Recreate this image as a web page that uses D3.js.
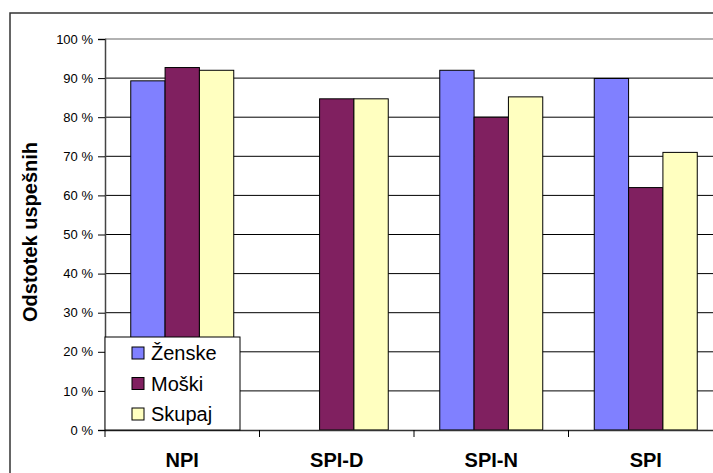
<!DOCTYPE html>
<html>
<head>
<meta charset="utf-8">
<script src="https://cdn.jsdelivr.net/npm/d3@7"></script>
<style>
  html, body { margin: 0; padding: 0; background: #fff; }
  svg { display: block; font-family: Arial, "Liberation Sans", sans-serif; }
</style>
</head>
<body>
<div id="chart"></div>
<script>
const categories = ["NPI", "SPI-D", "SPI-N", "SPI"];
const seriesNames = ["Ženske", "Moški", "Skupaj"];
const zenske = [89.3, null, 92.0, 89.9];
const moski = [92.7, 84.7, 80.0, 62.0];
const skupaj = [92.0, 84.7, 85.2, 71.0];
const yTicks = [0, 10, 20, 30, 40, 50, 60, 70, 80, 90, 100];
const colors = ["#8080ff", "#802060", "#ffffc0"];

function renderChart() {
    const width = 713;
    const height = 473;
    const margin = { top: 39, right: -10, bottom: 43, left: 105 };

    const svg = d3.select("#chart").append("svg")
        .attr("width", width)
        .attr("height", height);

    // outer chart frame (cropped at right and bottom)
    svg.append("rect")
        .attr("x", 10).attr("y", 13)
        .attr("width", 740).attr("height", 500)
        .attr("fill", "none")
        .attr("stroke", "#333")
        .attr("stroke-width", 1.5);

    const x = d3.scaleBand()
        .domain(categories)
        .range([margin.left, width - margin.right]);

    const xs = d3.scaleBand()
        .domain(seriesNames)
        .range([0, x.bandwidth()])
        .paddingInner(0)
        .paddingOuter(0.75);

    const y = d3.scaleLinear()
        .domain([0, 100])
        .range([height - margin.bottom, margin.top]);

    // gridlines
    svg.append("g")
        .selectAll("line")
        .data(yTicks.filter(d => d > 0 && d < 100))
        .join("line")
        .attr("x1", margin.left).attr("x2", width - margin.right)
        .attr("y1", d => y(d)).attr("y2", d => y(d))
        .attr("stroke", "#000")
        .attr("stroke-width", 1);

    // plot area top border
    svg.append("line")
        .attr("x1", margin.left).attr("x2", width - margin.right)
        .attr("y1", y(100)).attr("y2", y(100))
        .attr("stroke", "#999")
        .attr("stroke-width", 1.5);

    const data = seriesNames.map((name, i) => ({
        name, color: colors[i], values: [zenske, moski, skupaj][i]
    }));

    svg.append("g")
        .selectAll("g")
        .data(data)
        .join("g")
        .attr("fill", d => d.color)
        .selectAll("rect")
        .data(d => d.values.map((v, j) => ({ name: d.name, cat: categories[j], v })).filter(e => e.v != null))
        .join("rect")
        .attr("x", d => x(d.cat) + xs(d.name))
        .attr("y", d => y(d.v))
        .attr("width", xs.bandwidth())
        .attr("height", d => y(0) - y(d.v))
        .attr("stroke", "#000")
        .attr("stroke-width", 1);

    // y axis
    const yAxis = svg.append("g")
        .attr("transform", `translate(${margin.left},0)`)
        .call(d3.axisLeft(y).tickValues(yTicks).tickSize(7).tickPadding(5)
            .tickFormat(d => d + " %"));
    yAxis.select(".domain").attr("stroke", "#444").attr("stroke-width", 1.5);
    yAxis.selectAll(".tick line").attr("stroke", "#000");
    yAxis.selectAll("text").attr("font-size", 13).attr("fill", "#000")
        .attr("font-family", "Arial, 'Liberation Sans', sans-serif");

    // x axis
    const xAxis = svg.append("g")
        .attr("transform", `translate(0,${y(0)})`)
        .call(d3.axisBottom(x).tickSize(0).tickPadding(23));
    xAxis.select(".domain").attr("stroke", "#333").attr("stroke-width", 1.5);
    xAxis.selectAll("text")
        .attr("font-size", 20)
        .attr("font-weight", "bold")
        .attr("fill", "#000")
        .attr("font-family", "Arial, 'Liberation Sans', sans-serif");

    // category boundary ticks
    svg.append("g")
        .selectAll("line")
        .data(categories)
        .join("line")
        .attr("x1", d => x(d)).attr("x2", d => x(d))
        .attr("y1", y(0)).attr("y2", y(0) + 7)
        .attr("stroke", "#000");

    // y title
    svg.append("text")
        .attr("transform", `translate(37,${232}) rotate(-90)`)
        .attr("text-anchor", "middle")
        .attr("font-size", 20)
        .attr("font-weight", "bold")
        .text("Odstotek uspešnih");

    // legend
    const legend = svg.append("g").attr("transform", "translate(105,337)");
    legend.append("rect")
        .attr("width", 135).attr("height", 93)
        .attr("fill", "#fff")
        .attr("stroke", "#000")
        .attr("stroke-width", 1);
    const item = legend.selectAll("g.item")
        .data(data)
        .join("g")
        .attr("class", "item")
        .attr("transform", (d, i) => `translate(27,${16 + i * 30.5})`);
    item.append("rect")
        .attr("x", 0).attr("y", -6)
        .attr("width", 12).attr("height", 12)
        .attr("fill", d => d.color)
        .attr("stroke", "#000");
    item.append("text")
        .attr("x", 19).attr("y", 7)
        .attr("font-size", 20)
        .text(d => d.name);
}

renderChart();
</script>
</body>
</html>
